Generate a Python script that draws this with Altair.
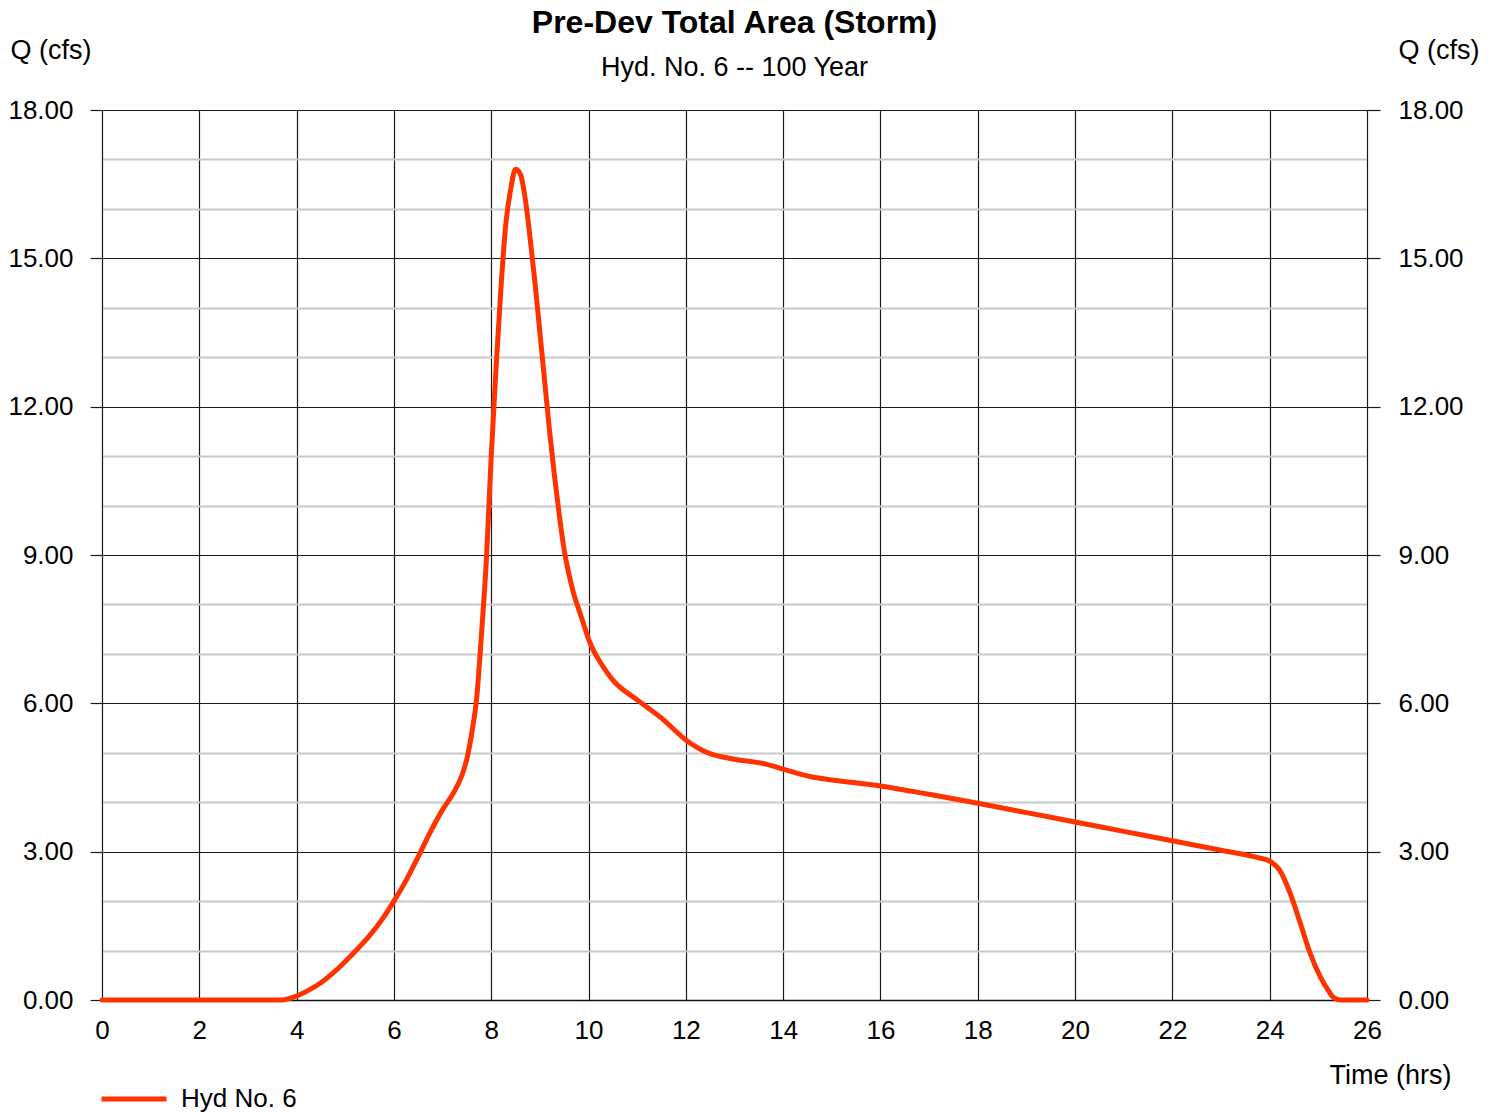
import altair as alt
import pandas as pd

# Hydrograph readings (time in hrs, flow in cfs)
time_hrs = [0, 1, 2, 3, 3.5, 3.7, 3.85, 4.0, 4.25, 4.5, 4.75, 5.0, 5.25, 5.5, 5.75,
            6.0, 6.25, 6.5, 6.75, 7.0, 7.2, 7.4, 7.5, 7.6, 7.7, 7.8, 7.9, 8.0, 8.1,
            8.2, 8.3, 8.4, 8.5, 8.6, 8.7, 8.8, 8.9, 9.0, 9.1, 9.2, 9.3, 9.4, 9.5,
            9.6, 9.7, 9.8, 9.9, 10.0, 10.3, 10.5, 11.0, 11.5, 12.0, 12.45, 13.0,
            13.65, 14.0, 14.6, 15.0, 16.0, 17.0, 18.0, 19.0, 20.0, 21.0, 22.0,
            23.0, 23.8, 24.0, 24.2, 24.42, 24.63, 24.83, 25.04, 25.2, 25.3, 25.45, 26.0]
flow_cfs = [0, 0, 0, 0, 0, 0.0, 0.03, 0.08, 0.2, 0.35, 0.55, 0.78, 1.03, 1.3, 1.62,
            2.0, 2.42, 2.9, 3.4, 3.85, 4.15, 4.55, 4.88, 5.4, 6.1, 7.4, 8.9, 11.0, 12.8,
            14.4, 15.7, 16.4, 16.8, 16.7, 16.2, 15.4, 14.5, 13.5, 12.5, 11.5, 10.6, 9.8, 9.1,
            8.6, 8.2, 7.9, 7.6, 7.3, 6.74, 6.47, 6.07, 5.7, 5.26, 5.0, 4.87,
            4.77, 4.67, 4.51, 4.45, 4.33, 4.16, 3.98, 3.79, 3.6, 3.41, 3.22,
            3.03, 2.87, 2.81, 2.63, 2.16, 1.55, 0.95, 0.47, 0.2, 0.06, 0.0, 0.0]
series_name = "Hyd No. 6"

x_ticks = list(range(0, 27, 2))
y_minor_ticks = list(range(0, 19))
y_major_ticks = list(range(0, 19, 3))

df = pd.DataFrame({"t": time_hrs, "q": flow_cfs, "series": [series_name] * len(time_hrs)})

FONT = "Liberation Sans"
MAJOR = "datum.value % 3 === 0"

x_enc = alt.X("t:Q", scale=alt.Scale(domain=[0, 26], nice=False),
              axis=alt.Axis(values=x_ticks, grid=True, gridColor="#1a1a1a", gridWidth=1.2,
                            ticks=False, labelPadding=17, domainColor="#111111", domainWidth=1.5,
                            title="Time (hrs)", titleX=1349, titleY=75, titleAlign="right",
                            titleBaseline="middle", labelFlush=False))

left_axis = alt.Axis(orient="left", values=y_minor_ticks,
                     labelExpr="datum.value % 3 === 0 ? format(datum.value, '.2f') : ''",
                     grid=True,
                     gridColor={"condition": {"test": MAJOR, "value": "#1a1a1a"}, "value": "#c8c8c8"},
                     gridWidth={"condition": {"test": MAJOR, "value": 1.2}, "value": 2},
                     tickColor={"condition": {"test": MAJOR, "value": "#1a1a1a"}, "value": "transparent"},
                     tickSize=12, tickWidth=1.2, labelPadding=17, domainColor="#1a1a1a",
                     title="Q (cfs)", titleAngle=0, titleAlign="left", titleBaseline="middle",
                     titleX=-92, titleY=-60)
right_axis = alt.Axis(orient="right", values=y_major_ticks, format=".2f", grid=False,
                      tickSize=13, tickWidth=1.2, tickColor="#1a1a1a", labelPadding=18,
                      domainColor="#1a1a1a",
                      title="Q (cfs)", titleAngle=0, titleAlign="left", titleBaseline="middle",
                      titleX=31, titleY=-60)

yscale = alt.Scale(domain=[0, 18], nice=False)

line = alt.Chart(df).mark_line(strokeWidth=5, strokeCap="round", strokeJoin="round",
                               interpolate="monotone").encode(
    x=x_enc,
    y=alt.Y("q:Q", scale=yscale, axis=left_axis),
    color=alt.Color("series:N", scale=alt.Scale(range=["#FF3300"]),
                    legend=alt.Legend(orient="none", legendX=-3, legendY=954, title=None,
                                      symbolType="stroke", symbolSize=4225, symbolStrokeWidth=5,
                                      labelFontSize=26, labelFont=FONT, labelColor="black",
                                      labelOffset=12, padding=0)),
)

right = alt.Chart(df).mark_line(opacity=0).encode(
    x=alt.X("t:Q", scale=alt.Scale(domain=[0, 26], nice=False)),
    y=alt.Y("q:Q", scale=yscale, axis=right_axis),
)

chart = alt.layer(line, right).resolve_axis(y="independent").properties(
    width=1265, height=890,
    autosize=alt.AutoSizeParams(type="none"),
    padding={"left": 94, "top": 102, "right": 115, "bottom": 112},
    title=alt.TitleParams(text="Pre-Dev Total Area (Storm)", subtitle="Hyd. No. 6 -- 100 Year",
                          font=FONT, subtitleFont=FONT, fontSize=32, subtitleFontSize=27,
                          fontWeight="bold", color="black", subtitleColor="black",
                          anchor="middle", offset=28, dy=74, subtitlePadding=15),
).configure_axis(
    labelFont=FONT, labelFontSize=26, labelColor="black",
    titleFont=FONT, titleFontSize=27, titleFontWeight="normal", titleColor="black",
).configure_view(stroke=None)

chart.save("out.html", embed_options={"renderer": "svg", "actions": False})
